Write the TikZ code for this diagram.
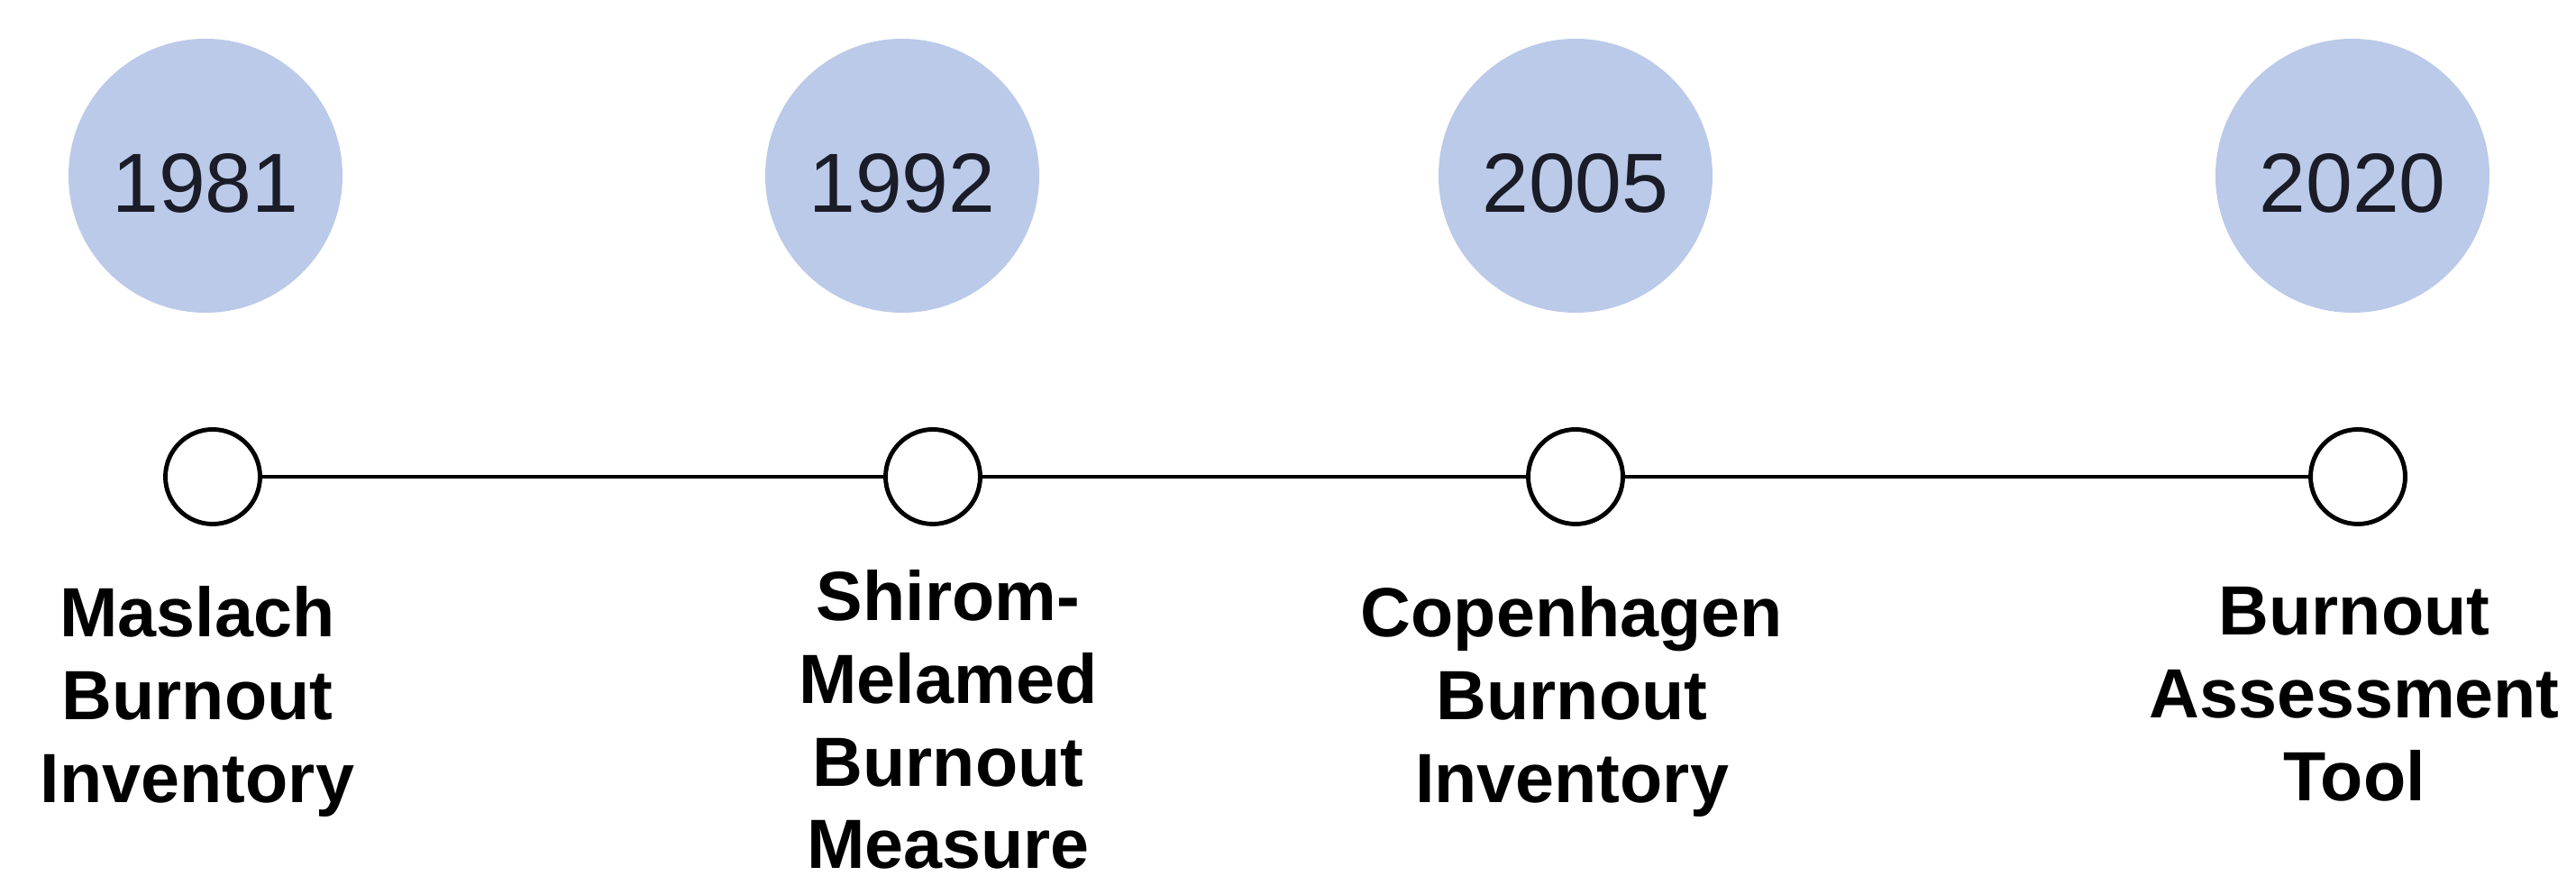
\documentclass[tikz,border=0pt]{standalone}
\usepackage{fontspec}
\setmainfont{Liberation Sans}
\definecolor{yearblue}{RGB}{187,202,233}
\definecolor{yearink}{RGB}{26,28,40}

\begin{document}
\begin{tikzpicture}[
	year/.style = {circle, fill = yearblue, minimum size = 3.04cm, inner sep = 0pt,
		text = yearink, font = \fontsize{26.5}{30}\selectfont, text height = 0.82cm},
	dot/.style = {circle, draw = black, line width = 1.4pt, fill = white,
		minimum size = 1.05cm, inner sep = 0pt},
	toolname/.style = {anchor = north, align = center, inner sep = 0pt,
		font = \fontsize{22}{26.1}\selectfont\bfseries}
	]
		
		\useasboundingbox (0, 0) rectangle (28.58, 9.82);
		
		\node[year] (y1) at (2.28, 7.87) {1981};
		
		\node[year] (y2) at (10.01, 7.87) {1992};
		
		\node[year] (y3) at (17.48, 7.87) {2005};
		
		\node[year] (y4) at (26.10, 7.87) {2020};
		
		\node[dot] (m1) at (2.36, 4.53) {};
		
		\node[dot] (m2) at (10.35, 4.53) {};
		
		\node[dot] (m3) at (17.48, 4.53) {};
		
		\node[dot] (m4) at (26.16, 4.53) {};
		
		\draw[line width = 1.4pt] (m1) -- (m2) -- (m3) -- (m4);
		
		\node[toolname] (t1) at (2.19, 3.32) {Maslach\\Burnout\\Inventory};
		
		\node[toolname] (t2) at (10.52, 3.50) {Shirom-\\Melamed\\Burnout\\Measure};
		
		\node[toolname] (t3) at (17.44, 3.32) {Copenhagen\\Burnout\\Inventory};
		
		\node[toolname] (t4) at (26.12, 3.31) {Burnout\\Assessment\\Tool};
		
	\end{tikzpicture}
\end{document}
